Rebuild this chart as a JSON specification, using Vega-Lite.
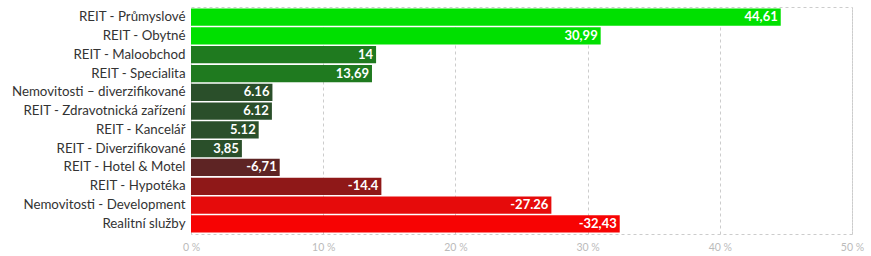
{
  "$schema": "https://vega.github.io/schema/vega-lite/v6.json",
  "autosize": {"type": "none"},
  "padding": {"left": 191, "top": 7, "right": 19, "bottom": 22},
  "width": 661,
  "height": 227,
  "config": {
    "font": "Lato",
    "view": {"stroke": "#cccccc", "strokeDash": [3, 3], "strokeWidth": 1},
    "axis": {"labelFont": "Lato", "domain": false, "ticks": false}
  },
  "data": {
    "values": [
      {"sector": "REIT - Průmyslové", "value": 44.61, "label": "44,61", "color": "#00e000"},
      {"sector": "REIT - Obytné", "value": 30.99, "label": "30,99", "color": "#00e000"},
      {"sector": "REIT - Maloobchod", "value": 14, "label": "14", "color": "#1f7a1f"},
      {"sector": "REIT - Specialita", "value": 13.69, "label": "13,69", "color": "#1f7a1f"},
      {"sector": "Nemovitosti – diverzifikované", "value": 6.16, "label": "6.16", "color": "#2a4f2a"},
      {"sector": "REIT - Zdravotnická zařízení", "value": 6.12, "label": "6.12", "color": "#2a4f2a"},
      {"sector": "REIT - Kancelář", "value": 5.12, "label": "5.12", "color": "#2a4f2a"},
      {"sector": "REIT - Diverzifikované", "value": 3.85, "label": "3,85", "color": "#2a4f2a"},
      {"sector": "REIT - Hotel & Motel", "value": -6.71, "label": "-6,71", "color": "#5e2424"},
      {"sector": "REIT - Hypotéka", "value": -14.4, "label": "-14.4", "color": "#8f1818"},
      {"sector": "Nemovitosti - Development", "value": -27.26, "label": "-27.26", "color": "#e60b0b"},
      {"sector": "Realitní služby", "value": -32.43, "label": "-32,43", "color": "#f70303"}
    ]
  },
  "transform": [{"calculate": "abs(datum.value)", "as": "absval"}],
  "encoding": {
    "y": {
      "field": "sector",
      "type": "nominal",
      "sort": null,
      "title": null,
      "scale": {"paddingInner": 0.08, "paddingOuter": 0.08},
      "axis": {"labelFontSize": 13.3, "labelColor": "#333333", "labelPadding": 6, "grid": false, "labelLimit": 300}
    },
    "x": {
      "field": "absval",
      "type": "quantitative",
      "title": null,
      "scale": {"domain": [0, 50], "nice": false},
      "axis": {
        "values": [0, 10, 20, 30, 40, 50],
        "labelExpr": "datum.value + ' %'",
        "labelFontSize": 10.5,
        "labelColor": "#bbbbbb",
        "labelPadding": 8,
        "grid": true,
        "gridColor": "#cccccc",
        "gridDash": [3, 3],
        "labelFlush": false
      }
    }
  },
  "layer": [
    {
      "mark": {"type": "bar"},
      "encoding": {"color": {"field": "color", "type": "nominal", "scale": null}}
    },
    {
      "mark": {"type": "text", "align": "right", "baseline": "middle", "dx": -3, "color": "white", "fontWeight": "bold", "fontSize": 13},
      "encoding": {"text": {"field": "label"}}
    }
  ]
}
